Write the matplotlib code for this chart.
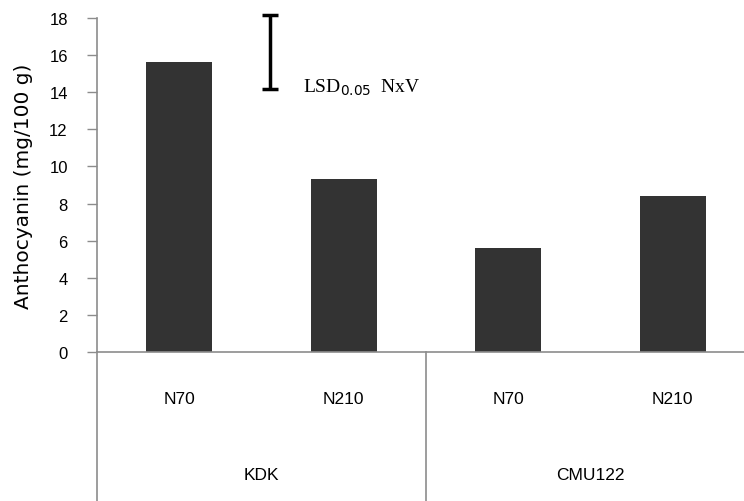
import matplotlib
matplotlib.use('Agg')
import matplotlib.pyplot as plt

# data
varieties = ['KDK', 'CMU122']
treatments = ['N70', 'N210', 'N70', 'N210']
anthocyanin = [15.65, 9.3, 5.6, 8.4]
lsd_low, lsd_high = 14.15, 18.15
lsd_x = 0.55

plt.rcParams['font.family'] = ['Liberation Sans', 'DejaVu Sans']

fig = plt.figure(figsize=(7.44, 5.02), dpi=100)
ax = fig.add_axes([97/744, 1-353/502, 658/744, 334/502])

grey = '#8c8c8c'
xs = list(range(len(treatments)))
ax.bar(xs, anthocyanin, width=0.4, color='#333333', zorder=2)

ax.set_xlim(-0.5, 3.5)
ax.set_ylim(0, 18)
ax.set_yticks(range(0, 19, 2))
ax.tick_params(axis='y', direction='out', length=7, width=1, color=grey,
               labelsize=12, pad=14)
ax.set_xticks([])
for s in ['top', 'right']:
    ax.spines[s].set_visible(False)
for s in ['left', 'bottom']:
    ax.spines[s].set_color(grey)
    ax.spines[s].set_linewidth(1.2)

ax.set_ylabel('Anthocyanin (mg/100 g)', fontsize=14.5, family='DejaVu Sans')
ax.yaxis.set_label_coords(-0.097, 0.5)

# two-level category axis below the bars
tr = ax.get_xaxis_transform()
for x, t in zip(xs, treatments):
    ax.text(x, -0.138, t, transform=tr, ha='center', va='center', fontsize=12.5)
for i, v in enumerate(varieties):
    ax.text(2*i + 0.5, -0.368, v, transform=tr, ha='center', va='center', fontsize=12.5)
for x in [-0.5, 1.5, 3.5]:
    ax.plot([x, x], [0, -0.45], transform=tr, color=grey, lw=1.2, clip_on=False)

# LSD bar
ax.errorbar([lsd_x], [(lsd_low+lsd_high)/2], yerr=[(lsd_high-lsd_low)/2],
            fmt='none', ecolor='black', elinewidth=2.5, capsize=6, capthick=2.5,
            clip_on=False, zorder=3)
ax.text(lsd_x + 0.2, lsd_low + 0.15, r'LSD$_{0.05}$  NxV', family='Liberation Serif',
        fontsize=14, ha='left', va='center')

fig.savefig('out.png', dpi=100)
